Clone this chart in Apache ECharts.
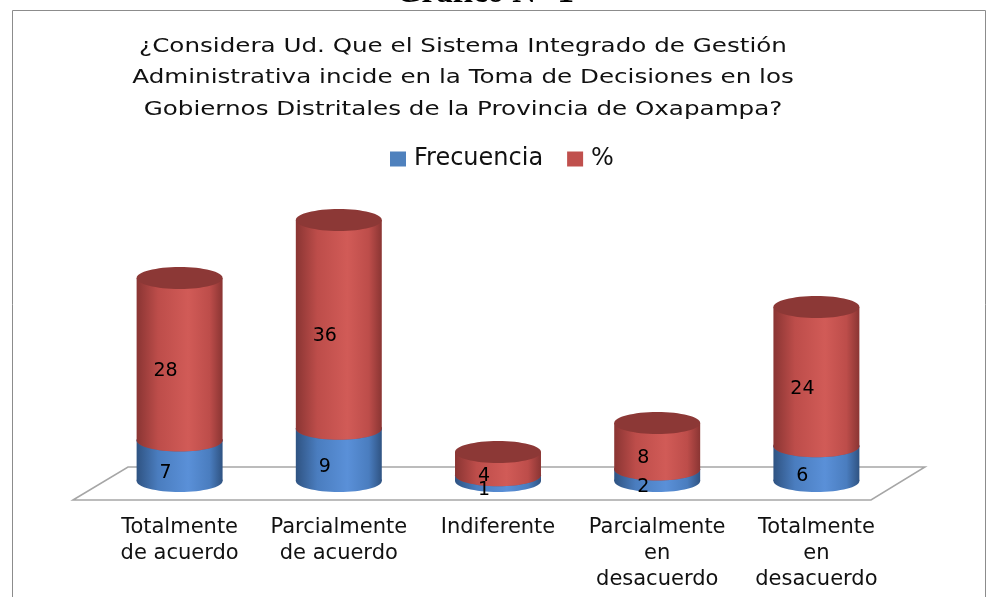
<!DOCTYPE html>
<html>
<head>
<meta charset="utf-8">
<script src="https://cdn.jsdelivr.net/npm/echarts@6/dist/echarts.min.js"></script>
<style>
  html, body { margin: 0; padding: 0; background: #fff; }
  #chart { width: 987px; height: 597px; }
</style>
</head>
<body>
<div id="chart"></div>
<script>
const categories = [
  'Totalmente\nde acuerdo',
  'Parcialmente\nde acuerdo',
  'Indiferente',
  'Parcialmente\nen\ndesacuerdo',
  'Totalmente\nen\ndesacuerdo'
]
const frecuencia = [7, 9, 1, 2, 6]
const porcentaje = [28, 36, 4, 8, 24]

const FONT = 'DejaVu Sans'
const GRID = { left: 100, right: 91, top: 191, bottom: 116 }
const zeroY = 597 - GRID.bottom
const rightX = 987 - GRID.right

// stack the two series by hand: [category, base, value]
const blueData = frecuencia.map((v, i) => [i, 0, v])
const redData = porcentaje.map((v, i) => [i, frecuencia[i], v])

const palette = {
  blue: { dark: '#2f5382', mid: '#4a7dbf', light: '#5a90d8', top: '#3d6aa3' },
  red: { dark: '#8a3533', mid: '#bd4d4a', light: '#d15b57', top: '#8c3836' }
}

function sideGradient(c) {
  return new echarts.graphic.LinearGradient(0, 0, 1, 0, [
    { offset: 0, color: c.dark },
    { offset: 0.25, color: c.mid },
    { offset: 0.6, color: c.light },
    { offset: 0.85, color: c.mid },
    { offset: 1, color: c.dark }
  ])
}

function cylinder(c) {
  return function (params, api) {
    const i = api.value(0)
    const base = api.value(1)
    const val = api.value(2)
    const p0 = api.coord([i, base])
    const p1 = api.coord([i, base + val])
    const rx = api.size([1, 0])[0] * 0.27
    const ry = 11
    const cx = p0[0]
    return {
      type: 'group',
      children: [
        { type: 'ellipse', shape: { cx: cx, cy: p0[1], rx: rx, ry: ry }, style: { fill: sideGradient(c) } },
        { type: 'rect', shape: { x: cx - rx, y: p1[1], width: rx * 2, height: p0[1] - p1[1] }, style: { fill: sideGradient(c) } },
        { type: 'ellipse', shape: { cx: cx, cy: p1[1], rx: rx, ry: ry }, style: { fill: c.top } },
        {
          type: 'text',
          style: {
            // label sits on the front face, a bit left of the axis (3d look)
            x: cx - 14, y: (p0[1] + p1[1]) / 2 + 12,
            text: String(val), align: 'center', verticalAlign: 'middle',
            fill: '#000', font: '19px "' + FONT + '"'
          },
          z2: 10
        }
      ]
    }
  }
}

const chart = echarts.init(document.getElementById('chart'))
chart.setOption({
  animation: false,
  backgroundColor: '#fff',
  legend: {
    left: 385,
    top: 142,
    itemWidth: 16,
    itemHeight: 15,
    itemGap: 24,
    icon: 'rect',
    textStyle: { fontFamily: FONT, fontSize: 24, color: '#111', padding: [0, 0, 0, 3] },
    data: [
      { name: 'Frecuencia', itemStyle: { color: '#4f81bd' } },
      { name: '%', itemStyle: { color: '#c0504d' } }
    ]
  },
  grid: GRID,
  xAxis: {
    type: 'category',
    data: categories,
    axisLine: { show: false },
    axisTick: { show: false },
    axisLabel: {
      margin: 34,
      fontFamily: FONT,
      fontSize: 21,
      lineHeight: 26,
      color: '#111',
      interval: 0,
      verticalAlign: 'top'
    }
  },
  yAxis: { type: 'value', min: 0, max: 50, show: false },
  graphic: [
    {
      type: 'polygon',
      z: -1,
      shape: {
        points: [
          [GRID.left - 27, zeroY + 19],
          [GRID.left + 28, zeroY - 14],
          [rightX + 29, zeroY - 14],
          [rightX - 25, zeroY + 19]
        ]
      },
      style: { fill: '#fff', stroke: '#a6a6a6', lineWidth: 1.5 }
    },
    {
      type: 'rect',
      z: -2,
      shape: { x: 12.5, y: 10.5, width: 973, height: 600 },
      style: { fill: 'none', stroke: '#8c8c8c', lineWidth: 1 }
    },
    {
      // heading of the page, mostly cut off at the top
      type: 'text',
      x: 485,
      y: -23,
      style: {
        text: 'Gráfico N° 1', align: 'center', verticalAlign: 'top',
        font: 'bold 33px "Liberation Serif"', fill: '#000'
      }
    },
    {
      // chart title, stretched sideways like the original picture
      type: 'text',
      x: 463,
      y: 31,
      scaleX: 1.23,
      style: {
        text: '¿Considera Ud. Que el Sistema Integrado de Gestión\nAdministrativa incide en la Toma de Decisiones en los\nGobiernos Distritales de la Provincia de Oxapampa?',
        align: 'center', verticalAlign: 'top', lineHeight: 31.5,
        font: '20px "' + FONT + '"', fill: '#111'
      }
    }
  ],
  series: [
    { name: 'Frecuencia', type: 'custom', renderItem: cylinder(palette.blue), data: blueData, itemStyle: { color: '#4f81bd' } },
    { name: '%', type: 'custom', renderItem: cylinder(palette.red), data: redData, itemStyle: { color: '#c0504d' } }
  ]
})
</script>
</body>
</html>
